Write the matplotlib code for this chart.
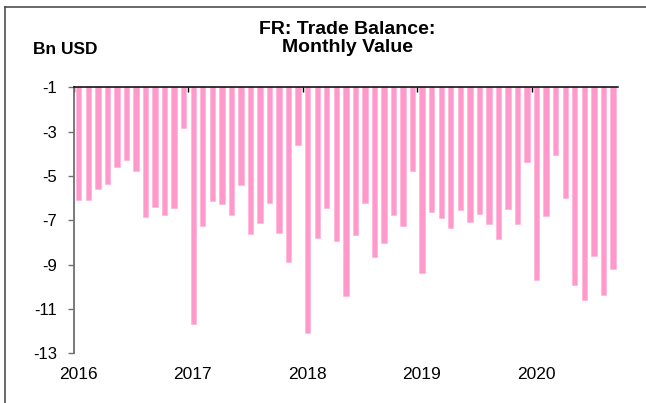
import matplotlib
matplotlib.use("Agg")
import matplotlib.pyplot as plt
from matplotlib.lines import Line2D

plt.rcParams['font.family'] = ['Liberation Sans', 'DejaVu Sans']

title = "FR: Trade Balance:\nMonthly Value"
unit_label = "Bn USD"
year_labels = ["2016", "2017", "2018", "2019", "2020"]
y_ticks = [-1, -3, -5, -7, -9, -11, -13]

# Monthly values Jan 2016 .. Sep 2020
values = [
    -6.08, -6.08, -5.60, -5.38, -4.58, -4.30, -4.79, -6.85, -6.38, -6.76, -6.46, -2.85,
    -11.66, -7.26, -6.11, -6.26, -6.78, -5.39, -7.60, -7.14, -6.23, -7.57, -8.89, -3.60,
    -12.08, -7.78, -6.43, -7.93, -10.43, -7.65, -6.23, -8.64, -8.04, -6.74, -7.24, -4.78,
    -9.36, -6.64, -6.91, -7.35, -6.52, -7.09, -6.70, -7.15, -7.84, -6.49, -7.18, -4.38,
    -9.68, -6.79, -4.07, -6.01, -9.92, -10.60, -8.63, -10.35, -9.18,
]

W, H = 646, 403
fig = plt.figure(figsize=(W / 100, H / 100), dpi=100)
ax = fig.add_axes([74 / W, 1 - 353.3 / H, (617.7 - 74) / W, (353.3 - 87.3) / H])

x = [i + 0.5 for i in range(len(values))]
ax.bar(x, [v + 1 for v in values], bottom=-1, width=0.56, color='#FF99CC',
       edgecolor='#FFB3D9', linewidth=0.5)

ax.set_xlim(0, 57)
ax.set_ylim(-13, -1)
ax.set_yticks(y_ticks)
ax.set_yticklabels([str(t) for t in y_ticks])
ax.tick_params(axis='y', direction='out', length=4.3, width=1, color='#707070',
               pad=8, labelsize=12, labelcolor='black')

ax.set_xticks([12 * i for i in range(len(year_labels))])
ax.set_xticklabels([])
ax.tick_params(axis='x', direction='in', length=3.5, width=1, color='black',
               top=True, bottom=False, labeltop=False, labelbottom=False)

for i, lab in enumerate(year_labels):
    ax.text(12 * i + 0.45, -13.95, lab, ha='center', va='center', fontsize=12.5)

ax.spines['bottom'].set_visible(False)
ax.spines['right'].set_visible(False)
ax.spines['left'].set_color('#707070')
ax.spines['left'].set_linewidth(1.3)
ax.spines['top'].set_color('black')
ax.spines['top'].set_linewidth(1.1)

fig.text(347 / W, 1 - 38.5 / H, title, ha='center', va='center', fontsize=14,
         fontweight='bold', linespacing=1.12)
fig.text(33 / W, 1 - 49 / H, unit_label, ha='left', va='center', fontsize=12.5,
         fontweight='bold')

# outer frame lines (left & top)
fig.add_artist(Line2D([5 / W, 5 / W], [0, 1 - 7 / H], transform=fig.transFigure,
                      color='#404040', linewidth=1.1))
fig.add_artist(Line2D([5 / W, 1], [1 - 7 / H, 1 - 7 / H], transform=fig.transFigure,
                      color='#404040', linewidth=1.1))

fig.savefig("out.png", dpi=100)
